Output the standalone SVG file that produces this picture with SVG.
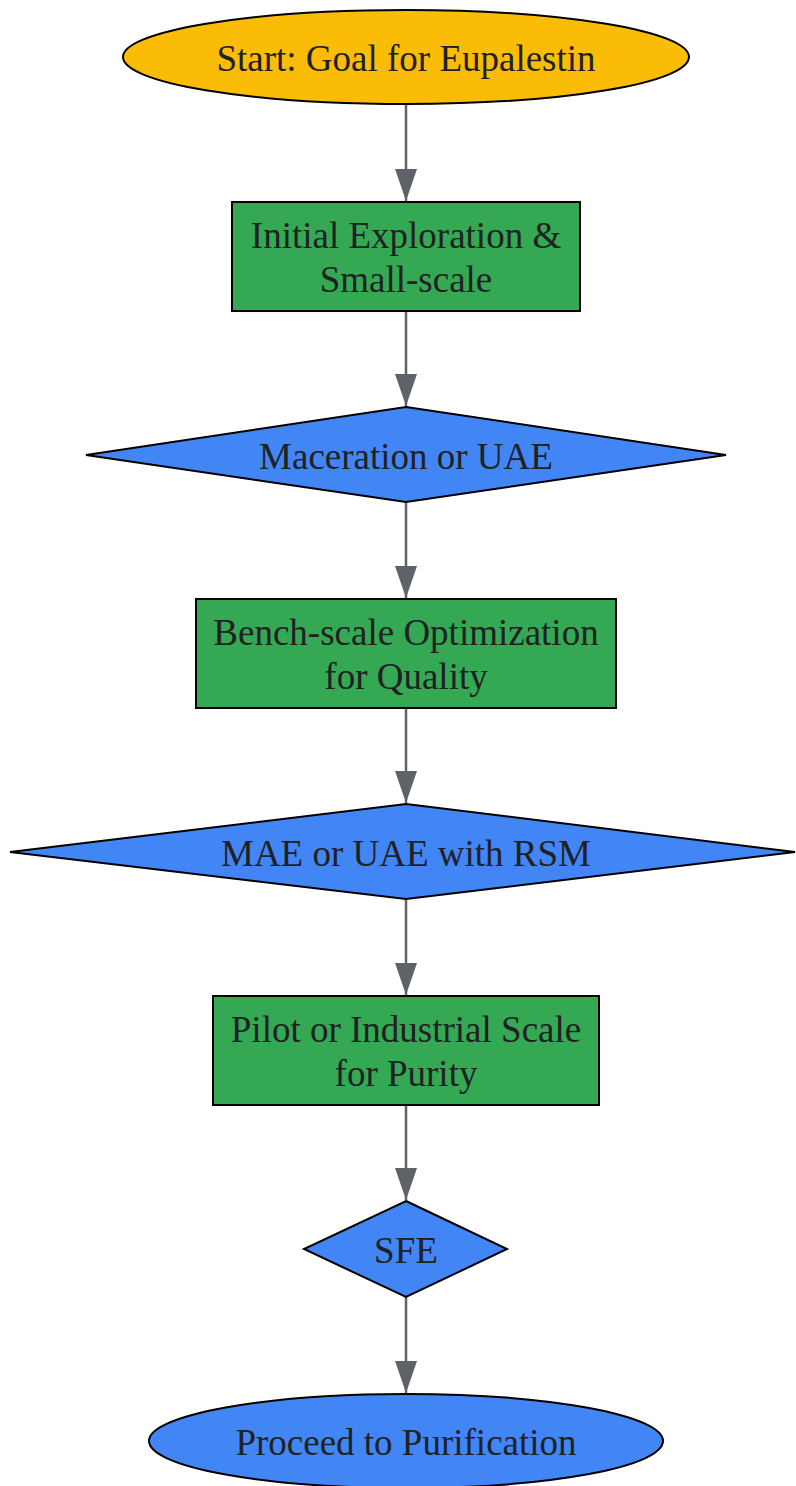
<svg xmlns="http://www.w3.org/2000/svg" width="796" height="1486" viewBox="0 0 796 1486">
<style>
.n{stroke:#000;stroke-width:2}
.y{fill:#FBBC05}.g{fill:#34A853}.b{fill:#4285F4}
text{font-family:"Liberation Serif","Times New Roman",serif;font-size:37px;fill:#202124;text-anchor:middle}
.e{stroke:#5f6368;stroke-width:2.5;fill:none;marker-end:url(#ah)}
</style>
<defs>
<marker id="ah" viewBox="0 0 32 22" markerWidth="32" markerHeight="22" refX="32" refY="11" orient="auto" markerUnits="userSpaceOnUse">
<path d="M0,0 L32,11 L0,22 z" fill="#5f6368"/>
</marker>
</defs>
<g id="edges">
<path class="e" d="M406,105 V201"/>
<path class="e" d="M406,311 V406"/>
<path class="e" d="M406,502 V598"/>
<path class="e" d="M406,708 V803"/>
<path class="e" d="M406,899 V995"/>
<path class="e" d="M406,1105 V1200"/>
<path class="e" d="M406,1297 V1393"/>
</g>
<g id="start">
<ellipse class="n y" cx="406" cy="57" rx="283" ry="47"/>
<text x="406" y="71">Start: Goal for Eupalestin</text>
</g>
<g id="initial">
<rect class="n g" x="232" y="202" width="348" height="109"/>
<text x="406" y="248">Initial Exploration &amp;</text>
<text x="406" y="292">Small-scale</text>
</g>
<g id="d1">
<polygon class="n b" points="406,407 726,455 406,502 86,455"/>
<text x="406" y="469">Maceration or UAE</text>
</g>
<g id="bench">
<rect class="n g" x="196" y="599" width="420" height="109"/>
<text x="406" y="645">Bench-scale Optimization</text>
<text x="406" y="689">for Quality</text>
</g>
<g id="d2">
<polygon class="n b" points="406,804 795,852 406,899 10,852"/>
<text x="406" y="866">MAE or UAE with RSM</text>
</g>
<g id="pilot">
<rect class="n g" x="213" y="996" width="386" height="109"/>
<text x="406" y="1042">Pilot or Industrial Scale</text>
<text x="406" y="1086">for Purity</text>
</g>
<g id="d3">
<polygon class="n b" points="406,1201 507,1249 406,1297 304,1249"/>
<text x="406" y="1263">SFE</text>
</g>
<g id="end">
<ellipse class="n b" cx="406" cy="1441" rx="257" ry="47"/>
<text x="406" y="1455">Proceed to Purification</text>
</g>
</svg>
